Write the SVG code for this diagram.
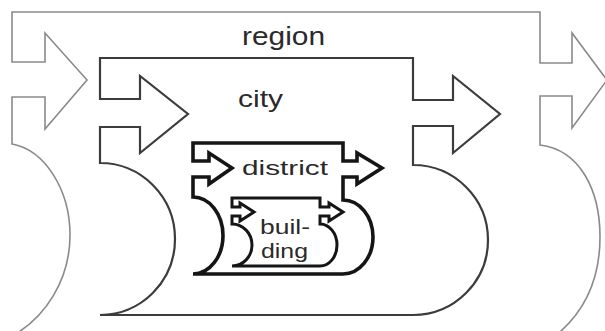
<svg xmlns="http://www.w3.org/2000/svg" width="605" height="331" viewBox="0 0 605 331">
<style>
.shape{fill:none;stroke-linejoin:miter;stroke-miterlimit:10}
.region{stroke:#8a8a8a;stroke-width:1.6}
.city{stroke:#3c3c3c;stroke-width:2.2}
.district{stroke:#151515;stroke-width:3.6}
.building{stroke:#151515;stroke-width:3}
.lbl{font-family:"Liberation Sans",Arial,sans-serif;fill:#2a2a2a}
</style>
<rect width="605" height="331" fill="#ffffff"/>
<g id="region">
<path class="shape region" d="M12,12 H540 V63 H572 V33 L607,80 L572,128 V96 H540 V145 C580,150 600,190 600,237 C600,285 580,318 550,340 L20,340 L12,336 C45,318 70,280 70,235 C70,190 45,150 12,144 V97 H45 V129 L87,80 L45,33 V62 H12 Z"/>
<text class="lbl" x="242" y="45" font-size="25" textLength="83" lengthAdjust="spacingAndGlyphs">region</text>
</g>
<g id="city">
<path class="shape city" d="M100,58 H413 V100 H453 V76 L500,114 L453,153 V126 H413 V165 A75,75 0 0 1 413,315 H100 A75,76 0 0 0 100,163 V127 H140 V153 L188,114 L140,76 V99 H100 Z"/>
<text class="lbl" x="238" y="107" font-size="24" textLength="45" lengthAdjust="spacingAndGlyphs">city</text>
</g>
<g id="district">
<path class="shape district" d="M193,143 H343 V161 H357 V153 L382,168 L357,184 V177 H343 V200 A30,37 0 0 1 343,274 H193 A30,38.5 0 0 0 193,197 V177 H209 V184 L232,168 L209,153 V161 H193 Z"/>
<text class="lbl" x="242" y="175" font-size="21" textLength="86" lengthAdjust="spacingAndGlyphs" fill="#111">district</text>
</g>
<g id="building">
<path class="shape building" d="M232,198 H320 V207 H329 V203 L343,212 L329,221 V216 H320 V224 A17,21 0 0 1 320,266 H232 A20,21 0 0 0 232,224 V216 H240 V221 L254,212 L240,203 V207 H232 Z"/>
<text class="lbl" x="260" y="234" font-size="21" textLength="50" lengthAdjust="spacingAndGlyphs">buil-</text>
<text class="lbl" x="261" y="258" font-size="21" textLength="47" lengthAdjust="spacingAndGlyphs">ding</text>
</g>
</svg>
